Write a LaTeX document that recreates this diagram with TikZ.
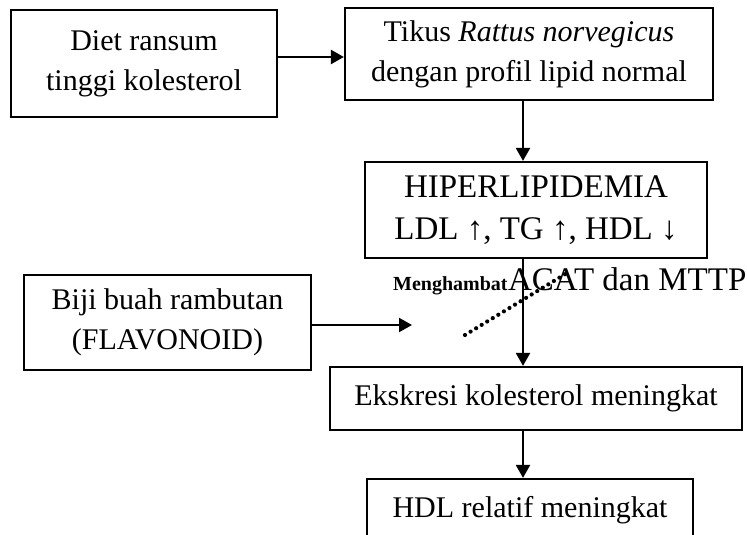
\documentclass[tikz,border=0pt]{standalone}
\usepackage{fontspec}
\setmainfont{Liberation Serif}
\usetikzlibrary{arrows.meta}
\begin{document}
\begin{tikzpicture}[x=1pt,y=-1pt,
  box/.style={draw, line width=2.2pt, align=center, inner sep=0pt,
    font=\fontsize{30}{40}\selectfont},
  arr/.style={line width=2.2pt, -{Triangle[length=13pt,width=14pt]}},
  dots/.style={line width=4.2pt, line cap=round, dash pattern=on 0pt off 6.5pt}]
\useasboundingbox (0,0) rectangle (747,535);
\clip (0,0) rectangle (747,535);
\node[box, minimum width=266pt, minimum height=107pt] (diet) at (144,63.5) {Diet ransum\\tinggi kolesterol};
\node[box, minimum width=368pt, minimum height=92pt] (tikus) at (529,54) {Tikus \textit{Rattus norvegicus}\\dengan profil lipid normal};
\node[box, minimum width=342pt, minimum height=96pt, font=\fontsize{33}{42}\selectfont] (hiper) at (536,210) {HIPERLIPIDEMIA\\LDL ↑, TG ↑, HDL ↓};
\node[box, minimum width=287pt, minimum height=95pt] (biji) at (167.5,322.5) {Biji buah rambutan\\(FLAVONOID)};
\node[box, minimum width=412pt, minimum height=63pt] (eks) at (536,398.5) {Ekskresi kolesterol meningkat};
\node[box, minimum width=326pt, minimum height=62pt] (hdl) at (530,510) {HDL relatif meningkat};
\node[anchor=base west, inner sep=0pt, font=\fontsize{20}{24}\selectfont\bfseries] (mh) at (393,290) {Menghambat};
\node[anchor=base west, inner sep=0pt, font=\fontsize{33}{38}\selectfont] (acat) at (mh.base east) {ACAT dan MTTP};
\coordinate (vx) at (523,0);
\coordinate (tip) at (412,325);
\coordinate (d1) at (465,335);
\coordinate (d2) at (567,273);
\draw[arr] (diet.east |- 0,57) -- (tikus.west |- 0,57);
\draw[arr] (tikus.south -| vx) -- (hiper.north -| vx);
\draw[arr] (hiper.south -| vx) -- (eks.north -| vx);
\draw[arr] (eks.south -| vx) -- (hdl.north -| vx);
\draw[arr] (biji.east |- tip) -- (tip);
\draw[dots] (d1) -- (d2);
\end{tikzpicture}
\end{document}
